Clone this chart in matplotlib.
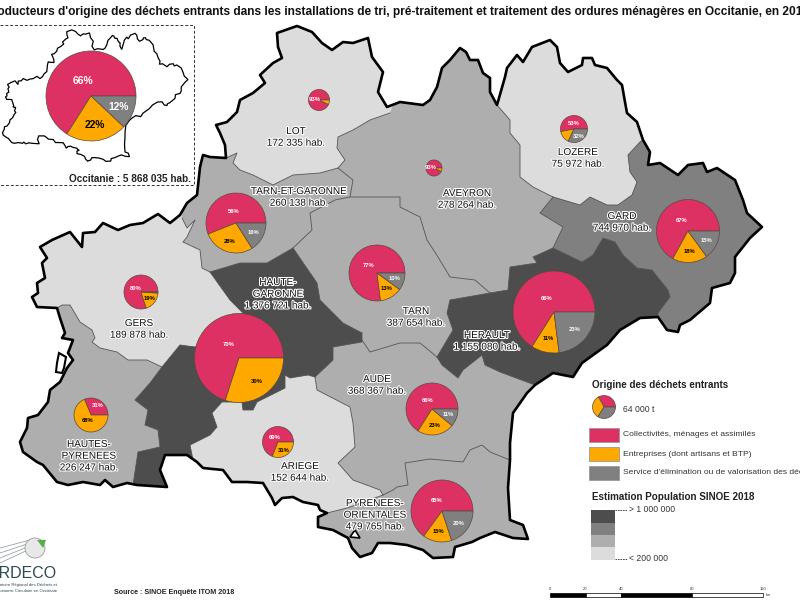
import numpy as np
import matplotlib
matplotlib.use('Agg')
import matplotlib.pyplot as plt
import matplotlib.patheffects as pe
from matplotlib.patches import Polygon, Rectangle, Circle

plt.rcParams['font.family'] = ['Liberation Sans', 'DejaVu Sans']

PINK = '#de3163'
ORANGE = '#ffa800'
GREY = '#808080'
DARK = '#4d4d4d'
MID = '#aeaeae'
LIGHT = '#dcdcdc'

# map outline and borders in pixels
outer = [(216, 125), (227, 122), (237, 112), (240, 100), (253, 93), (265, 83), (260, 75), (273, 63), (282, 58),
         (278, 47), (277, 33), (297, 26), (312, 32), (322, 43), (332, 50), (343, 42), (353, 43), (368, 38),
         (372, 57), (383, 72), (378, 92), (387, 107), (400, 102), (423, 105), (430, 100), (437, 87), (442, 68),
         (450, 60), (460, 48), (466, 52), (470, 60), (478, 60), (483, 73), (490, 78), (490, 92), (497, 105),
         (505, 77), (507, 68), (517, 55), (523, 62), (532, 47), (550, 40), (557, 47), (560, 63), (568, 72),
         (582, 65), (583, 58), (592, 58), (595, 65), (607, 68), (617, 80), (622, 85), (625, 102), (627, 113),
         (637, 122), (643, 140), (650, 152), (648, 165), (660, 163), (678, 175), (688, 165), (703, 163), (707, 172),
         (717, 168), (735, 180), (743, 200), (747, 213), (762, 227), (750, 238), (735, 257), (735, 273), (730, 283),
         (712, 288), (710, 303), (690, 320), (680, 325), (678, 332), (667, 330), (658, 317), (640, 318), (620, 330),
         (607, 345), (600, 350), (582, 363), (573, 377), (553, 373), (535, 385), (527, 393), (513, 413), (510, 443),
         (510, 460), (508, 488), (510, 520), (523, 525), (528, 539), (513, 538), (495, 532), (480, 538), (472, 542),
         (455, 547), (453, 557), (433, 558), (423, 550), (407, 545), (390, 543), (378, 543), (372, 553), (360, 557),
         (352, 548), (348, 538), (333, 530), (318, 527), (318, 517), (327, 513), (320, 510), (318, 505), (303, 502),
         (293, 497), (282, 498), (275, 505), (272, 498), (263, 483), (247, 482), (232, 482), (223, 470), (203, 468),
         (197, 462), (187, 455), (165, 455), (160, 470), (167, 487), (137, 485), (127, 483), (113, 487), (105, 480),
         (100, 485), (83, 482), (68, 485), (57, 482), (43, 465), (37, 462), (23, 452), (20, 442), (27, 428),
         (28, 418), (38, 415), (48, 402), (50, 390), (60, 382), (67, 368), (73, 360), (68, 353), (73, 340), (62, 338),
         (65, 333), (60, 318), (57, 308), (37, 307), (32, 297), (38, 293), (37, 283), (45, 278), (42, 263), (47, 258),
         (40, 247), (52, 240), (70, 232), (82, 247), (83, 233), (95, 232), (103, 223), (118, 230), (130, 225),
         (143, 223), (158, 214), (170, 223), (180, 215), (187, 203), (197, 195), (200, 167), (203, 155), (210, 157),
         (226, 158), (225, 145), (220, 133)]
etang = [(59, 353), (66, 357), (64, 368), (62, 373), (56, 372), (57, 363)]
llivia = [(350, 537), (355, 530), (360, 538)]

lot_border = [(226, 158), (237, 153), (233, 163), (240, 170), (253, 175), (273, 185), (293, 175), (320, 173),
              (338, 168), (345, 160), (337, 148), (338, 137), (353, 130), (370, 120), (390, 113)]
tg_aveyron = [(338, 168), (353, 180), (350, 197), (335, 200), (310, 213), (312, 230), (293, 248)]
tg_hg = [(293, 248), (267, 263), (240, 263), (210, 272)]
tg_gers = [(210, 272), (202, 268), (200, 250), (183, 242), (187, 237), (195, 220), (187, 228), (182, 218)]
tarn_aveyron = [(350, 197), (400, 197), (400, 207), (420, 217), (427, 240), (438, 257), (450, 277), (475, 280),
                (490, 293)]
av_lozere = [(497, 105), (510, 120), (510, 133), (520, 145), (520, 177), (533, 187), (553, 197)]
lozere_gard = [(553, 197), (580, 205), (590, 197), (607, 205), (618, 205), (632, 195), (637, 182), (630, 172),
               (628, 155), (640, 142), (643, 140)]
av_gard = [(553, 197), (540, 213), (563, 227), (553, 248)]
av_herault = [(553, 248), (533, 257), (537, 263), (510, 267), (508, 290), (490, 293)]
gard_herault = [(553, 248), (582, 262), (593, 255), (603, 238), (615, 242), (623, 255), (637, 268), (652, 270),
                (668, 290), (670, 297), (658, 313), (658, 317)]
tarn_herault = [(490, 293), (450, 300), (447, 313), (453, 330), (437, 357)]
herault_aude = [(437, 357), (442, 365), (458, 378), (463, 370), (482, 355), (485, 365), (500, 372), (535, 385)]
tarn_aude = [(362, 340), (370, 352), (400, 343), (420, 343), (437, 357)]
tarn_hg = [(293, 248), (317, 283), (320, 300), (343, 323), (362, 333)]
hg_aude = [(362, 333), (362, 342), (333, 347), (333, 360), (315, 377)]
hg_ariege = [(315, 377), (308, 375), (290, 378), (285, 375), (285, 388), (257, 402), (253, 410), (243, 410),
             (242, 402), (222, 402), (212, 413), (217, 427), (210, 435), (190, 445), (193, 460)]
hg_hp = [(133, 485), (138, 452), (160, 447), (158, 430), (145, 425), (148, 410), (135, 400), (150, 383), (162, 367)]
hg_gers = [(162, 367), (180, 345), (195, 347), (243, 313), (230, 300), (210, 272)]
gers_hp = [(162, 367), (147, 360), (128, 360), (117, 352), (100, 348), (92, 342), (95, 338), (92, 330), (80, 322),
           (70, 305), (62, 305), (57, 308)]
ariege_aude = [(315, 377), (317, 390), (350, 407), (353, 423), (355, 447), (338, 463), (353, 480), (380, 490),
               (383, 495)]
ariege_po = [(383, 495), (347, 508), (327, 513)]
aude_po = [(383, 495), (393, 490), (397, 487), (408, 485), (405, 463), (430, 459), (463, 462), (470, 450), (482, 445),
           (490, 452), (510, 460)]

# pies : x, y, radius in pixels and the three shares
pie_names = ['INSET', 'LOT', 'AVEYRON', 'LOZERE', 'GARD', 'TARN-ET-GARONNE', 'TARN', 'GERS', 'HAUTE-GARONNE',
             'HERAULT', 'AUDE', 'PYRENEES-ORIENTALES', 'HAUTES-PYRENEES', 'ARIEGE', 'LEGEND']
pie_x = [91, 319, 434, 574, 688, 236, 377, 141, 239, 554, 432, 442, 91, 278, 604]
pie_y = [96, 100, 168, 129, 231, 223, 273, 292, 358, 312, 409, 511, 415, 442, 407]
pie_r = [45, 10.5, 8, 13.5, 31.5, 30, 28, 17, 44.5, 41, 26, 31, 17, 15.5, 11.5]
collectivites = [66, 93, 93, 53, 67, 56, 77, 80, 70, 66, 66, 65, 31, 69, 33]
entreprises = [22, 7, 7, 15, 18, 28, 13, 19, 30, 11, 23, 15, 68, 31, 33]
service = [12, 0, 0, 32, 15, 16, 10, 1, 0, 23, 11, 20, 0, 0, 34]

label_x = [296, 299, 467, 578, 622, 278, 139, 416, 487, 377, 89, 300, 375]
label_y = [131, 191, 193, 152, 216, 282, 323, 311, 335, 379, 444, 466, 503]
label_txt = ['LOT', 'TARN-ET-GARONNE', 'AVEYRON', 'LOZERE', 'GARD', 'HAUTE-\nGARONNE', 'GERS', 'TARN', 'HERAULT',
             'AUDE', 'HAUTES-\nPYRENEES', 'ARIEGE', 'PYRENEES-\nORIENTALES']
label_pop = ['172 335', '260 138', '278 264', '75 972', '744 970', '1 376 721', '189 878', '387 654', '1 155 080',
             '368 367', '226 247', '152 644', '479 765']

legend_labels = ['Collectivités, ménages et assimilés', 'Entreprises (dont artisans et BTP)',
                 "Service d'élimination ou de valorisation des déchets"]
scale_ticks = [0, 20, 40, 80, 120]

fig = plt.figure(figsize=(8, 6), dpi=100)
ax = fig.add_axes([0, 0, 1, 1])

# base of the map then the departments which are not in the middle class
region = Polygon(outer, closed=True, fc=MID, ec='none', zorder=1)
ax.add_patch(region)

shapes = [
    (lot_border + [(395, 100), (385, 15), (195, 15), (195, 125), (222, 148)], LIGHT),
    (av_lozere + lozere_gard[1:] + [(665, 100), (560, 20), (490, 60)], LIGHT),
    (tg_gers[::-1] + hg_gers[::-1] + gers_hp[1:] + [(15, 320), (15, 200), (182, 200)], LIGHT),
    (ariege_aude + ariege_po[1:] + [(310, 520), (300, 545), (190, 510)] + hg_ariege[::-1], LIGHT),
    (av_gard + gard_herault[1:] + [(653, 345), (690, 350), (790, 230), (680, 130)] + lozere_gard[::-1], GREY),
    (av_herault + tarn_herault[1:] + herault_aude[1:] + [(545, 400), (650, 345)] + gard_herault[::-1], DARK),
    (tg_hg[::-1] + tarn_hg[1:] + hg_aude[1:] + hg_ariege[1:] + [(190, 505), (133, 505)] + hg_hp + hg_gers[1:], DARK),
]
for pts, col in shapes:
    p = Polygon(pts, closed=True, fc=col, ec='none', zorder=2)
    ax.add_patch(p)
    p.set_clip_path(region)

borders = [lot_border, tg_aveyron, tg_hg, tg_gers, tarn_aveyron, av_lozere, lozere_gard, av_gard, av_herault,
           gard_herault, tarn_herault, herault_aude, tarn_aude, tarn_hg, hg_aude, hg_ariege, hg_hp, hg_gers, gers_hp,
           ariege_aude, ariege_po, aude_po]
for b in borders:
    xs, ys = zip(*b)
    line, = ax.plot(xs, ys, color='#555555', lw=0.6, zorder=3)
    line.set_clip_path(region)

ax.add_patch(Polygon(outer, closed=True, fc='none', ec='black', lw=1.9, joinstyle='round', zorder=4))
ax.add_patch(Polygon(etang, closed=True, fc='white', ec='black', lw=1.5, zorder=4))
ax.add_patch(Polygon(llivia, closed=True, fc='white', ec='black', lw=1.2, zorder=4))

# inset with the whole region
ax.plot([0, 194, 194, 0], [25, 25, 185, 185], color='#333333', lw=0.7, ls=(0, (3, 2)), zorder=4)
small = [(x * 0.25 - 2.5, y * 0.247 + 23.5) for x, y in outer]
ax.add_patch(Polygon(small, closed=True, fc='white', ec='black', lw=0.9, zorder=4))
ax.text(194 - 3, 179, 'Occitanie : 5 868 035 hab.', ha='right', va='center', fontsize=7.2, fontweight='bold',
        color='#222222', zorder=8)

for i in range(len(pie_names)):
    shares = [collectivites[i], entreprises[i], service[i]]
    cols = [c for c, v in zip([PINK, ORANGE, GREY], shares) if v > 0]
    vals = [v for v in shares if v > 0]
    wedges, _ = ax.pie(vals, colors=cols, center=(pie_x[i], pie_y[i]), radius=pie_r[i], startangle=0,
                       counterclock=False, wedgeprops=dict(edgecolor='#5a4a3a', linewidth=0.5))
    for w in wedges:
        w.set_zorder(5)
    if pie_names[i] == 'LEGEND':
        continue
    big = pie_names[i] == 'INSET'
    for w, v, c in zip(wedges, vals, cols):
        if v < 18 and pie_r[i] < 20:
            continue
        mid = np.radians((w.theta1 + w.theta2) / 2)
        dist = 0.38 if v == max(vals) else 0.66
        ax.text(pie_x[i] + dist * pie_r[i] * np.cos(mid), pie_y[i] + dist * pie_r[i] * np.sin(mid), f'{v}%',
                ha='center', va='center', fontweight='bold', fontsize=7.4 if big else 4.2,
                color='black' if c == ORANGE else 'white', zorder=6)

# department names
halo = [pe.withStroke(linewidth=1.6, foreground='white')]
for x, y, name, pop in zip(label_x, label_y, label_txt, label_pop):
    parts = name.split('\n') + [pop + ' hab.']
    for j, part in enumerate(parts):
        ax.text(x, y + j * 11.7, part, ha='center', va='center', fontsize=7.2, color='#111111',
                path_effects=halo, zorder=7)

ax.text(397, 12, "Producteurs d'origine des déchets entrants dans les installations de tri, "
        "pré-traitement et traitement des ordures ménagères en Occitanie, en 2018",
        ha='center', va='center', fontsize=8.6, fontweight='bold', color='#111111')

# legend
ax.text(591.5, 385, 'Origine des déchets entrants', va='center', fontsize=7.1, fontweight='bold', color='#222222')
ax.text(623, 409, '64 000 t', va='center', fontsize=6.2, color='#333333')
for y0, col, txt in zip([428, 447, 466], [PINK, ORANGE, GREY], legend_labels):
    ax.add_patch(Rectangle((589, y0), 30, 14, fc=col, ec='#999999', lw=0.6))
    ax.text(623, y0 + 7, txt, va='center', fontsize=6.1, color='#333333')
ax.text(591.5, 497, 'Estimation Population SINOE 2018', va='center', fontsize=7.1, fontweight='bold', color='#222222')
for y0, col in zip([510, 522.5, 535, 547], [DARK, GREY, MID, LIGHT]):
    ax.add_patch(Rectangle((591, y0), 24, 12.5, fc=col, ec='none'))
ax.plot([615, 627], [510, 510], color='#333333', lw=0.6, ls=(0, (2, 1)))
ax.plot([615, 627], [559, 559], color='#333333', lw=0.6, ls=(0, (2, 1)))
ax.text(629, 510, '> 1 000 000', va='center', fontsize=6.2, color='#333333')
ax.text(629, 558.5, '< 200 000', va='center', fontsize=6.2, color='#333333')

# scale bar, 120 km is 213 pixels
km = 213 / 120
for k, (a, b) in enumerate(zip(scale_ticks[:-1], scale_ticks[1:])):
    ax.add_patch(Rectangle((550 + a * km, 592.5), (b - a) * km, 4, fc='black' if k % 2 == 0 else 'white',
                           ec='black', lw=0.5))
for t in scale_ticks:
    ax.text(550 + t * km, 588.5, str(t), ha='center', va='center', fontsize=3, color='#333333')
ax.text(766, 595, 'km', va='center', fontsize=2.8, color='#333333')

ax.text(114, 592.5, 'Source : SINOE Enquête ITOM 2018', va='center', fontsize=5.1, fontweight='bold', color='#222222')

# logo
for k in range(4):
    ax.plot([0, 30], [553 + k * 5 - 5, 540 + k * 3], color='#9aa5a8', lw=0.6)
ax.add_patch(Circle((35, 548), 10, fc='#e8e8e8', ec='#9a9a9a', lw=0.6, zorder=3))
ax.add_patch(Polygon([(37, 540), (46, 540), (43, 548)], closed=True, fc='#55b047', ec='none', zorder=4))
ax.text(57, 574, 'ARDECO', ha='right', va='center', fontsize=11.5, color='#2d4a52')
ax.text(57, 585, 'Observatoire Régional des Déchets et', ha='right', va='center', fontsize=3.1, color='#2d4a52')
ax.text(57, 591, "de l'Economie Circulaire en Occitanie", ha='right', va='center', fontsize=3.1, color='#2d4a52')

ax.set_xlim(0, 800)
ax.set_ylim(600, 0)
ax.set_aspect('equal')
ax.axis('off')
fig.savefig('out.png', dpi=100)
